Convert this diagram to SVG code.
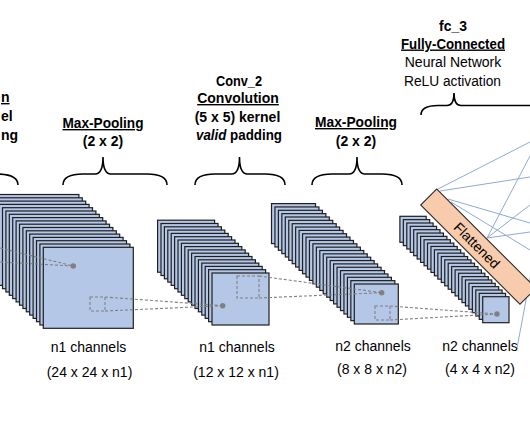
<svg xmlns="http://www.w3.org/2000/svg" width="530" height="442" viewBox="0 0 530 442">
<style>
text{font-family:"Liberation Sans",Arial,sans-serif;font-size:14px;fill:#000}
.b{font-weight:bold}
.u{text-decoration:underline}
.m{text-anchor:middle}
.L{fill:#b4c7e7;stroke:#1f1f1f;stroke-width:1.2}
.brace{fill:none;stroke:#000;stroke-width:1.6}
.dash{fill:none;stroke:#808080;stroke-width:1.1;stroke-dasharray:3 2}
.dot{fill:#808080}
.fc{fill:none;stroke:#8faad4;stroke-width:1}
.bar{fill:#f8cbad;stroke:#262626;stroke-width:1.1}
</style>
<rect width="530" height="442" fill="#fff"/>

<g id="conv1-header">
<text class="b u" x="1" y="102">n</text>
<text class="b" x="1" y="121">el</text>
<text class="b" x="1" y="139.5">ng</text>
<path class="brace" d="M -4,174 Q 18,174 18,185"/>
</g>

<g id="pool1-header">
<text class="b u m" x="103" y="128" textLength="81" lengthAdjust="spacingAndGlyphs">Max-Pooling</text>
<text class="b m" x="103" y="146">(2 x 2)</text>
<path class="brace" d="M 63,185 Q 63,174 83,174 H 95 Q 103,174 103,157 Q 103,174 111,174 H 147 Q 167,174 167,185"/>
</g>

<g id="conv2-header">
<text class="b m" x="239" y="86" textLength="46" lengthAdjust="spacingAndGlyphs">Conv_2</text>
<text class="b u m" x="238" y="103">Convolution</text>
<text class="b m" x="237.5" y="121.5">(5 x 5) kernel</text>
<text class="b m" x="239" y="140" textLength="86" lengthAdjust="spacingAndGlyphs"><tspan font-style="italic">valid</tspan> padding</text>
<path class="brace" d="M 195,185 Q 195,174 215,174 H 231.5 Q 239.5,174 239.5,157 Q 239.5,174 247.5,174 H 265 Q 285,174 285,185"/>
</g>

<g id="pool2-header">
<text class="b u m" x="356" y="127" textLength="82" lengthAdjust="spacingAndGlyphs">Max-Pooling</text>
<text class="b m" x="356" y="146">(2 x 2)</text>
<path class="brace" d="M 312,185 Q 312,174 332,174 H 349 Q 357,174 357,157 Q 357,174 365,174 H 382 Q 402,174 402,185"/>
</g>

<g id="fc3-header">
<text class="b m" x="453" y="30.5">fc_3</text>
<text class="b u m" x="453" y="48.5" textLength="104" lengthAdjust="spacingAndGlyphs">Fully-Connected</text>
<text class="m" x="453" y="67">Neural Network</text>
<text class="m" x="452.5" y="86" textLength="97" lengthAdjust="spacingAndGlyphs">ReLU activation</text>
<path class="brace" d="M 421,115 Q 421,105.5 438,105.5 H 447 Q 454,105.5 454,93 Q 454,105.5 461,105.5 H 545"/>
</g>

<g id="stack1">
<rect class="L" x="-11.1" y="194.5" width="90" height="81"/>
<rect class="L" x="-7.7" y="197.8" width="90" height="81"/>
<rect class="L" x="-4.3" y="201.1" width="90" height="81"/>
<rect class="L" x="-0.9" y="204.4" width="90" height="81"/>
<rect class="L" x="2.5" y="207.7" width="90" height="81"/>
<rect class="L" x="5.9" y="211" width="90" height="81"/>
<rect class="L" x="9.3" y="214.3" width="90" height="81"/>
<rect class="L" x="12.7" y="217.6" width="90" height="81"/>
<rect class="L" x="16.1" y="220.9" width="90" height="81"/>
<rect class="L" x="19.5" y="224.2" width="90" height="81"/>
<rect class="L" x="22.9" y="227.5" width="90" height="81"/>
<rect class="L" x="26.3" y="230.8" width="90" height="81"/>
<rect class="L" x="29.7" y="234.1" width="90" height="81"/>
<rect class="L" x="33.1" y="237.4" width="90" height="81"/>
<rect class="L" x="36.5" y="240.7" width="90" height="81"/>
<rect class="L" x="39.9" y="244" width="90" height="81"/>
<rect class="L" x="43.3" y="247.3" width="90" height="81"/>
<rect class="dash" x="90" y="297" width="15" height="14"/>
<circle class="dot" cx="73.3" cy="266" r="2.7"/>
<text class="m" x="88.5" y="352">n1 channels</text>
<text class="m" x="89.5" y="377">(24 x 24 x n1)</text>
</g>

<g id="stack2">
<rect class="L" x="157.6" y="220.2" width="57" height="52"/>
<rect class="L" x="161" y="223.5" width="57" height="52"/>
<rect class="L" x="164.4" y="226.8" width="57" height="52"/>
<rect class="L" x="167.8" y="230.1" width="57" height="52"/>
<rect class="L" x="171.2" y="233.4" width="57" height="52"/>
<rect class="L" x="174.6" y="236.7" width="57" height="52"/>
<rect class="L" x="178" y="240" width="57" height="52"/>
<rect class="L" x="181.4" y="243.3" width="57" height="52"/>
<rect class="L" x="184.8" y="246.6" width="57" height="52"/>
<rect class="L" x="188.2" y="249.9" width="57" height="52"/>
<rect class="L" x="191.6" y="253.2" width="57" height="52"/>
<rect class="L" x="195" y="256.5" width="57" height="52"/>
<rect class="L" x="198.4" y="259.8" width="57" height="52"/>
<rect class="L" x="201.8" y="263.1" width="57" height="52"/>
<rect class="L" x="205.2" y="266.4" width="57" height="52"/>
<rect class="L" x="208.6" y="269.7" width="57" height="52"/>
<rect class="L" x="212" y="273" width="57" height="52"/>
<rect class="dash" x="237" y="276" width="22" height="22"/>
<circle class="dot" cx="222.7" cy="305.7" r="2.7"/>
<text class="m" x="237" y="352">n1 channels</text>
<text class="m" x="236" y="377">(12 x 12 x n1)</text>
</g>

<g id="stack3">
<rect class="L" x="271.5" y="203.6" width="44" height="40"/>
<rect class="L" x="274.95" y="206.95" width="44" height="40"/>
<rect class="L" x="278.4" y="210.3" width="44" height="40"/>
<rect class="L" x="281.85" y="213.65" width="44" height="40"/>
<rect class="L" x="285.3" y="217" width="44" height="40"/>
<rect class="L" x="288.75" y="220.35" width="44" height="40"/>
<rect class="L" x="292.2" y="223.7" width="44" height="40"/>
<rect class="L" x="295.65" y="227.05" width="44" height="40"/>
<rect class="L" x="299.1" y="230.4" width="44" height="40"/>
<rect class="L" x="302.55" y="233.75" width="44" height="40"/>
<rect class="L" x="306" y="237.1" width="44" height="40"/>
<rect class="L" x="309.45" y="240.45" width="44" height="40"/>
<rect class="L" x="312.9" y="243.8" width="44" height="40"/>
<rect class="L" x="316.35" y="247.15" width="44" height="40"/>
<rect class="L" x="319.8" y="250.5" width="44" height="40"/>
<rect class="L" x="323.25" y="253.85" width="44" height="40"/>
<rect class="L" x="326.7" y="257.2" width="44" height="40"/>
<rect class="L" x="330.15" y="260.55" width="44" height="40"/>
<rect class="L" x="333.6" y="263.9" width="44" height="40"/>
<rect class="L" x="337.05" y="267.25" width="44" height="40"/>
<rect class="L" x="340.5" y="270.6" width="44" height="40"/>
<rect class="L" x="343.95" y="273.95" width="44" height="40"/>
<rect class="L" x="347.4" y="277.3" width="44" height="40"/>
<rect class="L" x="350.85" y="280.65" width="44" height="40"/>
<rect class="L" x="354.3" y="284" width="44" height="40"/>
<rect class="dash" x="375" y="306" width="15" height="14"/>
<circle class="dot" cx="381.7" cy="292.7" r="2.7"/>
<text class="m" x="373" y="351">n2 channels</text>
<text class="m" x="372" y="374">(8 x 8 x n2)</text>
</g>

<g id="stack4">
<rect class="L" x="399.9" y="216.3" width="26.3" height="26"/>
<rect class="L" x="403.35" y="219.65" width="26.3" height="26"/>
<rect class="L" x="406.8" y="223" width="26.3" height="26"/>
<rect class="L" x="410.25" y="226.35" width="26.3" height="26"/>
<rect class="L" x="413.7" y="229.7" width="26.3" height="26"/>
<rect class="L" x="417.15" y="233.05" width="26.3" height="26"/>
<rect class="L" x="420.6" y="236.4" width="26.3" height="26"/>
<rect class="L" x="424.05" y="239.75" width="26.3" height="26"/>
<rect class="L" x="427.5" y="243.1" width="26.3" height="26"/>
<rect class="L" x="430.95" y="246.45" width="26.3" height="26"/>
<rect class="L" x="434.4" y="249.8" width="26.3" height="26"/>
<rect class="L" x="437.85" y="253.15" width="26.3" height="26"/>
<rect class="L" x="441.3" y="256.5" width="26.3" height="26"/>
<rect class="L" x="444.75" y="259.85" width="26.3" height="26"/>
<rect class="L" x="448.2" y="263.2" width="26.3" height="26"/>
<rect class="L" x="451.65" y="266.55" width="26.3" height="26"/>
<rect class="L" x="455.1" y="269.9" width="26.3" height="26"/>
<rect class="L" x="458.55" y="273.25" width="26.3" height="26"/>
<rect class="L" x="462" y="276.6" width="26.3" height="26"/>
<rect class="L" x="465.45" y="279.95" width="26.3" height="26"/>
<rect class="L" x="468.9" y="283.3" width="26.3" height="26"/>
<rect class="L" x="472.35" y="286.65" width="26.3" height="26"/>
<rect class="L" x="475.8" y="290" width="26.3" height="26"/>
<rect class="L" x="479.25" y="293.35" width="26.3" height="26"/>
<rect class="L" x="482.7" y="296.7" width="26.3" height="26"/>
<circle class="dot" cx="497" cy="314" r="2.7"/>
<text class="m" x="480" y="351">n2 channels</text>
<text class="m" x="480" y="374">(4 x 4 x n2)</text>
</g>

<g id="connectors">
<line class="fc" x1="438" y1="189" x2="530" y2="142"/>
<line class="fc" x1="440" y1="191" x2="530" y2="177"/>
<line class="fc" x1="448" y1="199" x2="530" y2="223"/>
<line class="fc" x1="451" y1="202" x2="530" y2="250"/>
<line class="fc" x1="487" y1="238" x2="530" y2="156"/>
<line class="fc" x1="487" y1="238" x2="530" y2="205"/>
<line class="fc" x1="487" y1="238" x2="530" y2="232"/>
<line class="fc" x1="532" y1="268" x2="517" y2="348"/>
<line class="dash" x1="0" y1="248" x2="73.3" y2="266"/>
<line class="dash" x1="0" y1="262" x2="73.3" y2="266"/>
<line class="dash" x1="105" y1="297" x2="222.7" y2="305.7"/>
<line class="dash" x1="105" y1="311" x2="222.7" y2="305.7"/>
<line class="dash" x1="259" y1="276" x2="381.7" y2="292.7"/>
<line class="dash" x1="259" y1="298" x2="381.7" y2="292.7"/>
<line class="dash" x1="390" y1="306" x2="497" y2="314"/>
<line class="dash" x1="390" y1="320" x2="497" y2="314"/>
</g>

<g id="flattened" transform="translate(478.35,246.65) rotate(45)">
<rect class="bar" x="-70.2" y="-11.3" width="140.4" height="22.6"/>
<text class="m" x="-2" y="5">Flattened</text>
</g>
</svg>
